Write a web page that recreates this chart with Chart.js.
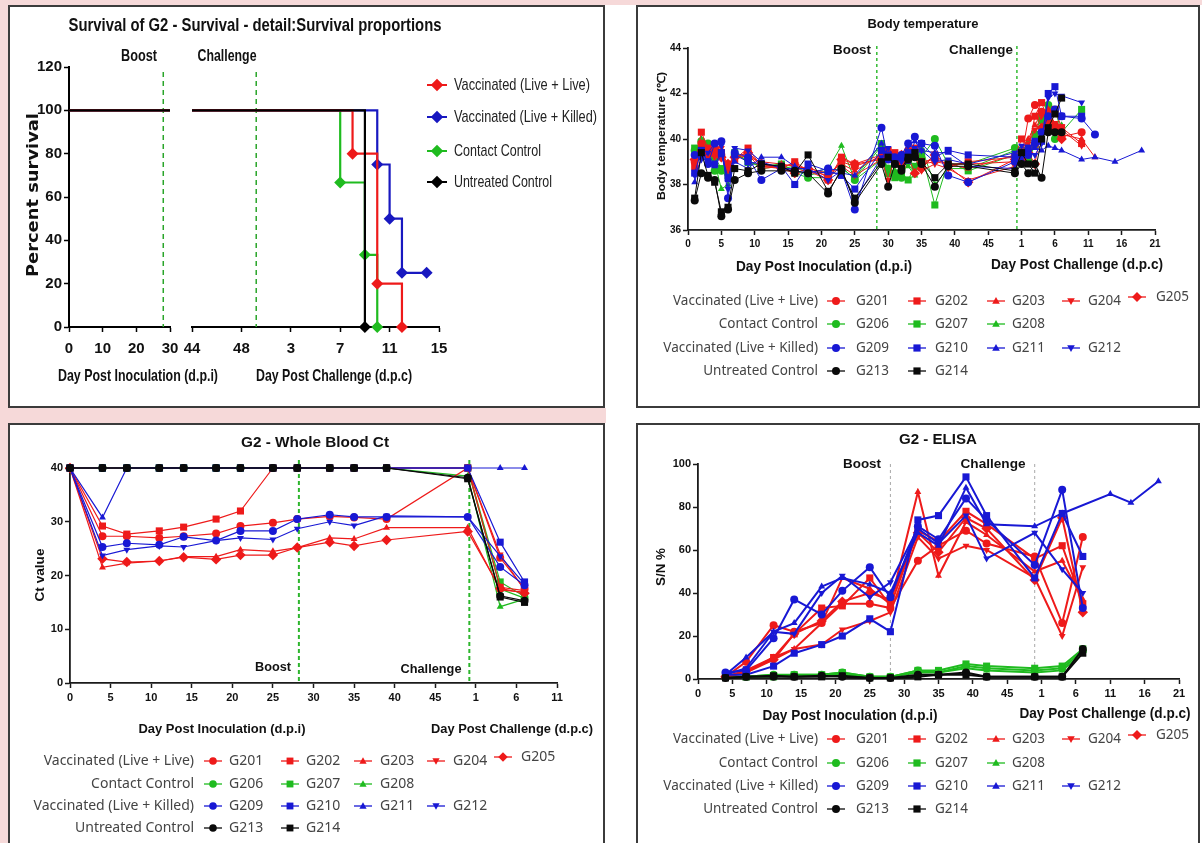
<!DOCTYPE html>
<html>
<head>
<meta charset="utf-8">
<title>G2 - survival, body temperature, whole blood Ct, ELISA</title>
<script src="https://cdn.jsdelivr.net/npm/chart.js@4.4.1/dist/chart.umd.min.js"></script>
<style>
  html, body { margin: 0; padding: 0; }
  body { width: 1202px; height: 843px; position: relative; overflow: hidden; background: #fff; }
  .pink { position: absolute; background: #f6d9d9; }
  .panel { position: absolute; box-sizing: border-box; border: 2px solid #3b3b3b; background: #fff; }
  canvas { position: absolute; left: 0; top: 0; }
</style>
</head>
<body>
<div class="pink" style="left:0;top:0;width:1202px;height:5px"></div>
<div class="pink" style="left:0;top:0;width:8px;height:843px"></div>
<div class="pink" style="left:0;top:408px;width:606px;height:15px"></div>
<div class="panel" style="left:8px;top:5px;width:597px;height:403px"></div>
<div class="panel" style="left:636px;top:5px;width:564px;height:403px"></div>
<div class="panel" style="left:8px;top:423px;width:597px;height:440px"></div>
<div class="panel" style="left:636px;top:423px;width:564px;height:440px"></div>
<script>
const W = 1202, H = 843;
const CH = 49;   // d.p.c. 0 sits at d.p.i. 49 on the shared x axis

// animals and groups
const animals = ['G201','G202','G203','G204','G205','G206','G207','G208','G209','G210','G211','G212','G213','G214'];
const groupNames = ['Vaccinated (Live + Live)','Contact Control','Vaccinated (Live + Killed)','Untreated Control'];
const groupMembers = [[0,1,2,3,4],[5,6,7],[8,9,10,11],[12,13]];
const groupColors = ['#ee1a1a','#1fbb1f','#1818d4','#0a0a0a'];
const markers = ['circle','rect','triangle','triangleDown','rectRot','circle','rect','triangle',
                 'circle','rect','triangle','triangleDown','circle','rect'];

// survival (percent), Kaplan-Meier steps
const survNames = ['Vaccinated (Live + Live)','Vaccinated (Live + Killed)','Contact Control','Untreated Control'];
const survColors = ['#ee1a1a','#1818c0','#1fbb1f','#000000'];
const survPreDays = [0, 30];
const survPrePct = [100, 100];
const survStartDpi = 44;
const survDays = [[8,10,12],[10,11,12,14],[7,9,10],[9]];          // d.p.c.
const survPct  = [[80,20,0],[75,50,25,25],[66.7,33.3,0],[0]];

// body temperature (deg C)
const tempPreDays = [1,2,3,4,5,6,7,9,11,14,16,18,21,23,25,29,30,31,32,33,34,35,37,39,42];
const tempPostDays = [0,1,2,3,4,5,6,7,10,12,15,19];
const tempPre = [
  [39.0,39.8,39.5,39.4,39.3,38.7,39.2,39.4,38.8,38.8,38.9,38.6,38.4,39.0,38.8,39.2,39.3,39.0,38.8,39.5,39.3,39.0,39.1,38.9,38.9],
  [38.8,40.3,39.6,39.5,39.4,38.9,39.1,39.6,38.8,38.7,39.0,38.6,38.2,39.2,38.9,39.3,39.5,39.4,39.0,39.4,39.6,38.8,39.3,38.8,39.0],
  [38.7,39.6,39.4,39.6,39.5,38.6,39.3,39.2,39.0,38.9,38.8,38.7,38.5,38.9,38.6,39.3,39.2,39.3,38.9,39.3,39.3,38.9,39.0,38.9,38.7],
  [38.9,39.3,39.5,39.2,39.6,38.6,39.1,39.3,38.7,38.8,38.6,38.8,38.3,38.8,38.4,39.1,38.2,39.2,38.8,39.2,39.2,38.6,38.9,38.7,38.2],
  [39.1,39.4,39.3,39.6,39.2,38.9,39.2,39.4,38.9,38.7,38.5,38.7,38.2,39.1,38.9,39.1,39.4,39.0,39.3,39.2,38.5,38.7,39.3,38.8,38.1],
  [39.5,39.9,39.8,38.6,38.6,38.5,39.3,39.1,38.7,38.8,38.5,38.3,38.3,38.8,38.2,39.1,38.7,38.5,38.3,39.0,39.5,39.2,40.0,38.9,38.9],
  [39.6,39.6,39.3,39.2,38.7,38.4,39.4,39.0,38.8,38.9,38.6,38.4,38.6,38.7,38.3,39.8,38.5,38.3,38.5,38.2,38.8,39.4,37.1,39.0,38.6],
  [39.3,40.0,39.2,39.0,37.8,38.0,39.5,38.9,38.9,38.7,38.8,38.5,38.7,39.7,38.2,39.7,38.4,38.6,38.7,38.8,38.4,39.6,38.0,38.7,38.7],
  [39.3,39.3,38.9,39.8,39.9,37.4,39.4,39.2,38.2,38.7,38.6,38.5,38.7,38.6,36.9,40.5,39.1,39.2,39.3,39.8,40.1,39.8,39.7,38.4,38.1],
  [38.5,39.5,39.0,38.9,39.4,38.3,39.3,39.0,38.9,38.8,38.0,38.9,38.6,38.4,37.8,39.5,39.3,39.0,39.2,39.4,39.4,39.8,39.2,39.5,39.3],
  [38.1,39.2,39.0,38.8,39.3,38.2,39.0,38.7,39.2,39.2,38.8,38.6,38.5,38.5,38.4,39.8,39.2,38.9,39.3,39.0,39.9,39.5,39.4,39.4,38.8],
  [38.4,39.1,39.4,39.8,39.7,37.8,39.6,39.5,39.0,38.7,38.7,38.7,38.2,38.6,37.3,39.2,39.6,39.2,39.0,39.7,39.6,39.5,39.0,39.1,38.9],
  [37.3,38.5,38.3,38.2,36.6,36.9,38.2,38.5,38.6,38.6,38.6,38.5,37.6,38.7,37.2,38.9,37.9,38.9,38.6,39.1,39.2,38.9,37.9,38.8,38.8],
  [37.4,39.4,38.4,38.1,36.8,37.0,38.7,38.6,38.9,38.8,38.5,39.3,37.7,38.6,37.4,39.0,39.2,38.9,38.7,39.2,39.4,39.0,38.3,38.9,38.9]
];
const tempPost = [
  [39.0,39.2,40.9,41.5,41.2,41.0,40.6,40.1,40.3],
  [39.2,40.0,39.6,41.0,41.6,40.8,41.3,40.5,39.8],
  [39.3,39.5,40.0,40.6,41.2,41.3,40.5,40.2,40.0,39.2],
  [38.8,39.4,39.8,40.4,41.0,41.2,40.7,40.4,39.7],
  [39.1,39.1,39.4,38.9,40.5,41.2,40.4,40.0],
  [39.6,39.2,39.1,39.7,40.8,41.5,40.0],
  [39.3,39.5,39.3,40.2,41.0,40.8,41.3,40.3,41.3],
  [39.5,39.3,39.9,40.0,40.6,41.4,40.5,40.6],
  [39.0,39.4,39.3,39.8,40.3,41.0,41.3,41.0,40.9,40.2],
  [39.2,39.3,39.6,39.9,39.9,42.0,42.3,41.0,41.0],
  [38.7,39.1,39.5,39.6,39.5,39.7,39.6,39.5,39.1,39.2,39.0,39.5],
  [39.4,39.7,39.4,39.3,39.8,41.8,42.0,41.9,41.6],
  [38.5,38.9,38.5,38.9,38.3,40.3,40.3,40.3],
  [38.6,39.4,38.9,38.5,40.0,40.5,41.1,41.8]
];

// whole blood Ct
const ctPreDays = [0,4,7,11,14,18,21,25,28,32,35,39];
const ctPostDays = [0,4,7];
const ctPre = [
  [40,27.3,27.3,27.0,27.3,27.8,29.2,29.8,30.5,31.0,30.8,30.5],
  [40,29.2,27.7,28.3,29.0,30.5,32.0,40,40,40,40,40],
  [40,21.5,22.3,22.7,23.5,23.5,24.8,24.5,25.2,27.0,26.8,28.9],
  [40,40,40,40,40,40,40,40,40,40,40,40],
  [40,23.1,22.5,22.7,23.4,23.0,23.8,23.8,25.2,26.2,25.5,26.6],
  [40,40,40,40,40,40,40,40,40,40,40,40],
  [40,40,40,40,40,40,40,40,40,40,40,40],
  [40,40,40,40,40,40,40,40,40,40,40,40],
  [40,25.3,26.0,25.7,27.2,26.5,28.3,28.3,30.5,31.3,30.9,30.9],
  [40,40,40,40,40,40,40,40,40,40,40,40],
  [40,30.8,40,40,40,40,40,40,40,40,40,40],
  [40,23.7,24.8,25.5,25.3,26.5,27.0,26.7,28.7,30.0,29.3,31.1],
  [40,40,40,40,40,40,40,40,40,40,40,40],
  [40,40,40,40,40,40,40,40,40,40,40,40]
];
const ctPost = [
  [40,23.3,17.5],[40,17.8,17.2],[28.9,17.3,16.9],[40,23.9,17.3],[28.2,17.6,16.7],
  [40,17.5,15.8],[40,18.8,16.1],[38.5,14.2,15.6],
  [30.9,21.6,18.2],[40,26.2,18.8],[40,40,40],[30.9,23.6,18.4],
  [38.2,16.2,15.3],[38.0,16.0,15.0]
];

// ELISA S/N %
const elisaPreDays = [4,7,11,14,18,21,25,28,32,35,39,42];
const elisaPostDays = [0,4,7,11,14,18];
const elisaPre = [
  [1,8,25,22,26,35,35,33,55,62,69,63],
  [1,4,10,21,33,34,47,34,69,64,78,72],
  [1,3,10,14,26,47,42,35,87,48,73,67],
  [1,3,9,14,16,23,27,31,66,56,62,60],
  [1,4,9,21,27,36,40,37,68,59,75,70],
  [1,1,2,2,2,3,1,1,4,3,6,5],
  [1,1,1,2,2,3,1,1,4,4,7,6],
  [1,1,2,1,2,2,1,1,3,3,5,4],
  [3,4,19,37,30,41,52,38,71,65,84,74],
  [2,2,6,12,16,20,28,22,74,76,94,76],
  [2,10,22,26,43,47,44,40,68,62,89,72],
  [2,5,22,21,40,48,38,45,70,63,76,56],
  [0.5,1,1,1,1.5,1,0.5,0.5,2,2,3,1],
  [0.5,1,1.5,1,1,1.5,0.5,0.5,1,2,2,1]
];
const elisaPost = [
  [57,26,66],[56,62,35],[50,55,37],[47,20,52],[46,75,31],
  [4,5,13],[5,6,14],[3,4,12],
  [53,88,33],[47,77,57],[71,77,null,86,82,92],[68,51,40],
  [1,1,14],[1,1,12]
];

// ---------- helpers ----------
const SANS = '"Liberation Sans", Arial, sans-serif';
const NARROW = '"Liberation Sans Narrow", "Arial Narrow", "Liberation Sans", sans-serif';
const LEG = '"Noto Sans", "DejaVu Sans", sans-serif';

function groupOf(a) { return groupMembers.findIndex(m => m.includes(a)); }

function txt(ctx, s, x, y, font, o = {}) {
  ctx.save();
  ctx.font = font;
  ctx.fillStyle = o.color || '#111';
  ctx.textAlign = o.align || 'center';
  ctx.textBaseline = 'middle';
  ctx.translate(x, y);
  if (o.rot) ctx.rotate(o.rot);
  if (o.w) ctx.scale(o.w / ctx.measureText(s).width, 1);
  ctx.fillText(s, 0, 0);
  ctx.restore();
}

function vdash(ctx, x, y0, y1, color, dash, lw) {
  ctx.save();
  ctx.strokeStyle = color; ctx.lineWidth = lw; ctx.setLineDash(dash);
  ctx.beginPath(); ctx.moveTo(x, y0); ctx.lineTo(x, y1); ctx.stroke();
  ctx.restore();
}

function drawMarker(ctx, style, color, x, y, r) {
  ctx.save();
  ctx.fillStyle = color;
  ctx.beginPath();
  if (style === 'circle') ctx.arc(x, y, r, 0, Math.PI * 2);
  else if (style === 'rect') ctx.rect(x - r * 0.9, y - r * 0.9, r * 1.8, r * 1.8);
  else if (style === 'rectRot') { ctx.moveTo(x, y - r * 1.25); ctx.lineTo(x + r * 1.25, y); ctx.lineTo(x, y + r * 1.25); ctx.lineTo(x - r * 1.25, y); ctx.closePath(); }
  else if (style === 'triangle') { ctx.moveTo(x, y - r); ctx.lineTo(x + r * 0.95, y + r * 0.7); ctx.lineTo(x - r * 0.95, y + r * 0.7); ctx.closePath(); }
  else { ctx.moveTo(x, y + r); ctx.lineTo(x + r * 0.95, y - r * 0.7); ctx.lineTo(x - r * 0.95, y - r * 0.7); ctx.closePath(); }
  ctx.fill();
  ctx.restore();
}

function gridLegend(ctx, L) {
  groupMembers.forEach((members, g) => {
    const y = L.rows[g];
    txt(ctx, groupNames[g], L.labelRight, y, L.font, { align: 'right', color: '#444' });
    members.forEach((a, j) => {
      const yy = y + (a === 4 ? L.lift : 0);
      const mx = L.markX[j];
      ctx.save();
      ctx.strokeStyle = groupColors[g]; ctx.lineWidth = 1.3;
      ctx.beginPath(); ctx.moveTo(mx - 9, yy); ctx.lineTo(mx + 9, yy); ctx.stroke();
      ctx.restore();
      drawMarker(ctx, markers[a], groupColors[g], mx, yy, L.r);
      txt(ctx, animals[a], L.textX[j], yy, L.font, { align: 'left', color: '#444' });
    });
  });
}

function toPoints(pre, post, preDays, postDays) {
  const pts = [];
  pre.forEach((v, i) => { if (v != null) pts.push({ x: preDays[i], y: v }); });
  post.forEach((v, i) => { if (v != null) pts.push({ x: CH + postDays[i], y: v }); });
  return pts;
}

function animalDataset(a, pts, lw, r) {
  const g = groupOf(a), st = markers[a];
  return {
    label: animals[a], data: pts,
    borderColor: groupColors[g], backgroundColor: groupColors[g],
    borderWidth: lw,
    pointStyle: st === 'triangleDown' ? 'triangle' : st,
    pointRotation: st === 'triangleDown' ? 180 : 0,
    pointRadius: st === 'rect' ? r * 1.25 : (st === 'rectRot' ? r * 1.3 : r),
    pointBorderWidth: 0,
    tension: 0, clip: false, spanGaps: true,
    order: g === 3 ? -1 : (g === 2 ? 0 : 1)
  };
}

function xLabel(v) { return v < CH ? String(v) : String(v - CH); }

function buildChart(cfg) {
  const cv = document.createElement('canvas');
  cv.width = W; cv.height = H;
  document.body.appendChild(cv);
  const a = cfg.area;
  const yShown = cfg.yShown !== false;
  const yW = yShown ? cfg.yW : 0;
  const axisColor = cfg.axisColor || '#1a1a1a';
  const grid = { drawOnChartArea: false, drawTicks: true, tickLength: 5, tickWidth: 1.5, color: axisColor };
  const border = { display: true, color: axisColor, width: cfg.axisWidth || 1.8 };
  return new Chart(cv.getContext('2d'), {
    type: 'line',
    data: { datasets: cfg.datasets },
    options: {
      responsive: false, animation: false, devicePixelRatio: 1, events: [],
      layout: { padding: { left: a.l - yW, top: a.t, right: W - a.r, bottom: H - a.b - 30 } },
      plugins: { legend: { display: false }, tooltip: { enabled: false }, title: { display: false } },
      scales: {
        x: {
          type: 'linear', min: cfg.xMin, max: cfg.xMax,
          afterFit: s => { s.height = 30; },
          afterBuildTicks: s => { s.ticks = cfg.xTicks.map(v => ({ value: v })); },
          ticks: { autoSkip: false, maxRotation: 0, padding: cfg.xPad || 2, color: '#111', font: cfg.tickFont, callback: cfg.xLabel },
          grid: grid, border: border
        },
        y: {
          display: yShown, min: cfg.yMin, max: cfg.yMax,
          afterFit: s => { if (yShown) s.width = yW; },
          ticks: { stepSize: cfg.yStep, padding: 2, color: '#111', font: cfg.tickFont },
          grid: grid, border: border
        }
      }
    },
    plugins: [cfg.overlay]
  });
}

// ---------- panel 1: survival ----------
const survTick = { family: NARROW, size: 15, weight: 'bold' };

buildChart({
  area: { l: 69, t: 67, r: 170, b: 327 }, yW: 45, xPad: 8,
  xMin: 0, xMax: 30, xTicks: [0, 10, 20, 30], xLabel: v => String(v),
  yMin: 0, yMax: 120, yStep: 20, tickFont: survTick, axisColor: '#000', axisWidth: 2,
  datasets: survNames.map((n, g) => ({
    label: n, data: survPreDays.map((d, i) => ({ x: d, y: survPrePct[i] })),
    borderColor: survColors[g], borderWidth: 2.2, pointRadius: 0, clip: false,
    order: g === 3 ? -1 : 0
  })),
  overlay: {
    id: 'survLeft',
    beforeDatasetsDraw(c) {
      vdash(c.ctx, c.scales.x.getPixelForValue(28), 72, c.chartArea.bottom, '#2aa52a', [5, 4], 1.5);
    },
    afterDraw(c) {
      const ctx = c.ctx;
      txt(ctx, 'Survival of G2 - Survival - detail:Survival proportions', 255, 26, 'bold 19px ' + NARROW, { w: 373 });
      txt(ctx, 'Boost', 139, 57, 'bold 16px ' + NARROW, { w: 36 });
      txt(ctx, 'Percent survival', 34, 195, 'bold 15px "DejaVu Sans", sans-serif', { rot: -Math.PI / 2, w: 164 });
      txt(ctx, 'Day Post Inoculation (d.p.i)', 138, 376, 'bold 17px ' + NARROW, { w: 160 });
    }
  }
});

buildChart({
  area: { l: 192, t: 67, r: 439, b: 327 }, yShown: false, xPad: 8,
  xMin: survStartDpi, xMax: 64, xTicks: [44, 48, 52, 56, 60, 64], xLabel: xLabel,
  yMin: 0, yMax: 120, yStep: 20, tickFont: survTick, axisColor: '#000', axisWidth: 2,
  datasets: survNames.map((n, g) => {
    const pts = [{ x: survStartDpi, y: 100 }].concat(survDays[g].map((d, i) => ({ x: CH + d, y: survPct[g][i] })));
    return {
      label: n, data: pts, stepped: true,
      borderColor: survColors[g], backgroundColor: survColors[g], borderWidth: 2.2,
      pointStyle: 'rectRot', pointRadius: pts.map((p, i) => i === 0 ? 0 : 6), pointBorderWidth: 0,
      clip: false, order: g === 3 ? -1 : 0
    };
  }),
  overlay: {
    id: 'survRight',
    beforeDatasetsDraw(c) {
      vdash(c.ctx, c.scales.x.getPixelForValue(49.2), 72, c.chartArea.bottom, '#2aa52a', [5, 4], 1.5);
    },
    afterDraw(c) {
      const ctx = c.ctx;
      txt(ctx, 'Challenge', 227, 57, 'bold 16px ' + NARROW, { w: 59 });
      txt(ctx, 'Day Post Challenge (d.p.c)', 334, 376, 'bold 17px ' + NARROW, { w: 156 });
      const rows = [85, 117, 151, 182];
      const widths = [136, 143, 87, 98];
      survNames.forEach((n, g) => {
        ctx.save();
        ctx.strokeStyle = survColors[g]; ctx.lineWidth = 2;
        ctx.beginPath(); ctx.moveTo(427, rows[g]); ctx.lineTo(447, rows[g]); ctx.stroke();
        ctx.restore();
        drawMarker(ctx, 'rectRot', survColors[g], 437, rows[g], 5);
        txt(ctx, n, 454, rows[g], '17px ' + NARROW, { align: 'left', w: widths[g], color: '#222' });
      });
    }
  }
});

// ---------- panel 2: body temperature ----------
const dpcTicks70 = [0, 5, 10, 15, 20, 25, 30, 35, 40, 45, 50, 55, 60, 65, 70];
const legendRight = { labelRight: 818, markX: [836, 917, 996, 1071, 1137], textX: [856, 935, 1012, 1088, 1156], r: 4, lift: -4, font: '13.5px ' + LEG };

buildChart({
  area: { l: 688, t: 48, r: 1155, b: 230 }, yW: 30, xPad: 3,
  xMin: 0, xMax: 70, xTicks: dpcTicks70, xLabel: xLabel,
  yMin: 36, yMax: 44, yStep: 2, tickFont: { family: SANS, size: 10, weight: 'bold' },
  datasets: animals.map((n, a) => animalDataset(a, toPoints(tempPre[a], tempPost[a], tempPreDays, tempPostDays), 1, 4)),
  overlay: {
    id: 'temp',
    beforeDatasetsDraw(c) {
      const x = c.scales.x;
      vdash(c.ctx, x.getPixelForValue(28.3), 46, c.chartArea.bottom, '#33bb33', [3, 3], 1.5);
      vdash(c.ctx, x.getPixelForValue(49.3), 46, c.chartArea.bottom, '#33bb33', [3, 3], 1.5);
    },
    afterDraw(c) {
      const ctx = c.ctx;
      txt(ctx, 'Body temperature', 923, 25, 'bold 12px ' + SANS, { w: 111 });
      txt(ctx, 'Boost', 852, 50, 'bold 13px ' + SANS, { w: 38 });
      txt(ctx, 'Challenge', 981, 50, 'bold 13px ' + SANS, { w: 64 });
      txt(ctx, 'Body temperature (\u2103)', 662, 136, 'bold 11px ' + SANS, { rot: -Math.PI / 2, w: 128 });
      txt(ctx, 'Day Post Inoculation (d.p.i)', 824, 267, 'bold 14px ' + SANS, { w: 176 });
      txt(ctx, 'Day Post Challenge (d.p.c)', 1077, 265, 'bold 14px ' + SANS, { w: 172 });
      gridLegend(ctx, Object.assign({ rows: [301, 324, 348, 371] }, legendRight));
    }
  }
});

// ---------- panel 3: whole blood Ct ----------
buildChart({
  area: { l: 70, t: 468, r: 557, b: 683 }, yW: 34, xPad: 3,
  xMin: 0, xMax: 60, xTicks: [0, 5, 10, 15, 20, 25, 30, 35, 40, 45, 50, 55, 60], xLabel: xLabel,
  yMin: 0, yMax: 40, yStep: 10, tickFont: { family: SANS, size: 11, weight: 'bold' },
  datasets: animals.map((n, a) => animalDataset(a, toPoints(ctPre[a], ctPost[a], ctPreDays, ctPostDays), 1.2, 4)),
  overlay: {
    id: 'ct',
    beforeDatasetsDraw(c) {
      const x = c.scales.x;
      vdash(c.ctx, x.getPixelForValue(28.2), 460, c.chartArea.bottom, '#2db52d', [4, 3], 2);
      vdash(c.ctx, x.getPixelForValue(49.2), 460, c.chartArea.bottom, '#2db52d', [4, 3], 2);
    },
    afterDraw(c) {
      const ctx = c.ctx;
      txt(ctx, 'G2 - Whole Blood Ct', 315, 443, 'bold 14px ' + SANS, { w: 148 });
      txt(ctx, 'Boost', 273, 667, 'bold 13px ' + SANS, { w: 36 });
      txt(ctx, 'Challenge', 431, 669, 'bold 13px ' + SANS, { w: 61 });
      txt(ctx, 'Ct value', 40, 575, 'bold 13px ' + SANS, { rot: -Math.PI / 2, w: 53 });
      txt(ctx, 'Day Post Inoculation (d.p.i)', 222, 729, 'bold 13px ' + SANS, { w: 167 });
      txt(ctx, 'Day Post Challenge (d.p.c)', 512, 729, 'bold 13px ' + SANS, { w: 162 });
      gridLegend(ctx, { rows: [761, 784, 806, 828], labelRight: 194, markX: [213, 290, 363, 436, 503],
        textX: [229, 306, 380, 453, 521], r: 3.8, lift: -4, font: '14px ' + LEG });
    }
  }
});

// ---------- panel 4: ELISA ----------
buildChart({
  area: { l: 698, t: 464, r: 1179, b: 679 }, yW: 36, xPad: 3,
  xMin: 0, xMax: 70, xTicks: dpcTicks70, xLabel: xLabel,
  yMin: 0, yMax: 100, yStep: 20, tickFont: { family: SANS, size: 11, weight: 'bold' },
  datasets: animals.map((n, a) => animalDataset(a, toPoints(elisaPre[a], elisaPost[a], elisaPreDays, elisaPostDays), 2, 4)),
  overlay: {
    id: 'elisa',
    beforeDatasetsDraw(c) {
      const x = c.scales.x;
      vdash(c.ctx, x.getPixelForValue(28), 464, c.chartArea.bottom, '#a8a8a8', [3, 3], 1);
      vdash(c.ctx, x.getPixelForValue(49), 464, c.chartArea.bottom, '#a8a8a8', [3, 3], 1);
    },
    afterDraw(c) {
      const ctx = c.ctx;
      txt(ctx, 'G2 - ELISA', 938, 440, 'bold 14px ' + SANS, { w: 78 });
      txt(ctx, 'Boost', 862, 464, 'bold 13px ' + SANS, { w: 38 });
      txt(ctx, 'Challenge', 993, 464, 'bold 13px ' + SANS, { w: 65 });
      txt(ctx, 'S/N %', 662, 567, 'bold 12px ' + SANS, { rot: -Math.PI / 2, w: 38 });
      txt(ctx, 'Day Post Inoculation (d.p.i)', 850, 716, 'bold 14px ' + SANS, { w: 175 });
      txt(ctx, 'Day Post Challenge (d.p.c)', 1105, 714, 'bold 14px ' + SANS, { w: 171 });
      gridLegend(ctx, Object.assign({ rows: [739, 763, 786, 809] }, legendRight));
    }
  }
});
</script>
</body>
</html>
